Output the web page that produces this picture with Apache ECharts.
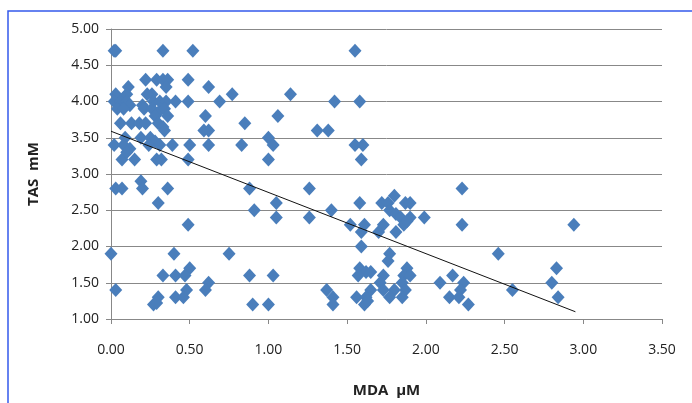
<!DOCTYPE html>
<html>
<head>
<meta charset="utf-8">
<script src="https://cdn.jsdelivr.net/npm/echarts@6/dist/echarts.min.js"></script>
<style>
  html, body { margin: 0; padding: 0; background: #fff; }
  #chart { width: 692px; height: 403px; }
</style>
</head>
<body>
<div id="chart"></div>
<script>
// MDA (x) and TAS (y) pairs
const mda = [
  0.02, 0.03, 0.33, 0.52, 1.55,
  0.11, 0.22, 0.29, 0.33, 0.36, 0.49, 0.62, 0.35, 0.26,
  0.03, 0.08, 0.10, 0.23, 0.77, 1.14,
  0.02, 0.06, 0.10, 0.12, 0.20, 0.27, 0.31, 0.35, 0.41, 0.49, 0.69, 1.42, 1.58,
  0.04, 0.08, 0.21, 0.26, 0.30, 0.34, 0.36, 0.28, 0.60, 1.06,
  0.06, 0.13, 0.18, 0.22, 0.30, 0.33, 0.85,
  0.34, 0.59, 0.62, 1.31, 1.38,
  0.09, 0.19, 0.25, 0.28, 1.00,
  0.02, 0.08, 0.12, 0.24, 0.31, 0.39, 0.50, 0.62, 0.83, 1.03, 1.55, 1.60,
  0.07, 0.10, 0.15, 0.29, 0.32, 0.49, 1.00, 1.59,
  0.19, 0.03, 0.07, 0.20, 0.36, 0.88, 1.26, 2.23,
  0.30, 1.05, 1.58, 1.72, 1.76, 1.80, 1.87, 1.90,
  0.91, 1.40, 1.77, 1.81,
  1.05, 1.26, 1.84, 1.90, 1.99,
  0.49, 1.52, 1.61, 1.73, 1.86, 2.23, 2.94, 1.88,
  1.59, 1.70, 1.81,
  1.59,
  0.00, 0.40, 0.75, 1.77, 2.46,
  1.76,
  0.50, 1.58, 2.83, 1.88, 1.62, 1.65,
  0.33, 0.41, 0.47, 0.88, 1.03, 1.57, 1.73, 1.86, 1.90, 2.17,
  0.62, 1.71, 1.85, 2.09, 2.24, 2.80,
  0.03, 0.48, 0.60, 1.37, 1.65, 1.73, 1.80, 1.87, 2.22, 2.55,
  0.30, 0.41, 0.46, 1.41, 1.56, 1.62, 1.77, 1.85, 2.15, 2.21, 2.84,
  0.27, 0.29, 0.90, 1.00, 1.41, 1.61, 1.63, 2.27
];
const tas = [
  4.70, 4.70, 4.70, 4.70, 4.70,
  4.20, 4.30, 4.30, 4.30, 4.30, 4.30, 4.20, 4.20, 4.10,
  4.10, 4.05, 4.10, 4.10, 4.10, 4.10,
  4.00, 4.00, 4.00, 3.95, 3.95, 4.00, 4.00, 4.00, 4.00, 4.00, 4.00, 4.00, 4.00,
  3.90, 3.90, 3.90, 3.90, 3.85, 3.90, 3.80, 3.80, 3.80, 3.80,
  3.70, 3.70, 3.70, 3.70, 3.70, 3.65, 3.70,
  3.60, 3.60, 3.60, 3.60, 3.60,
  3.50, 3.50, 3.50, 3.45, 3.50,
  3.40, 3.40, 3.35, 3.40, 3.40, 3.40, 3.40, 3.40, 3.40, 3.40, 3.40, 3.40,
  3.20, 3.30, 3.20, 3.20, 3.20, 3.20, 3.20, 3.20,
  2.90, 2.80, 2.80, 2.80, 2.80, 2.80, 2.80, 2.80,
  2.60, 2.60, 2.60, 2.60, 2.60, 2.70, 2.60, 2.60,
  2.50, 2.50, 2.50, 2.45,
  2.40, 2.40, 2.40, 2.40, 2.40,
  2.30, 2.30, 2.30, 2.30, 2.30, 2.30, 2.30, 2.35,
  2.20, 2.20, 2.20,
  2.00,
  1.90, 1.90, 1.90, 1.90, 1.90,
  1.80,
  1.70, 1.70, 1.70, 1.70, 1.65, 1.65,
  1.60, 1.60, 1.60, 1.60, 1.60, 1.60, 1.60, 1.60, 1.60, 1.60,
  1.50, 1.50, 1.50, 1.50, 1.50, 1.50,
  1.40, 1.40, 1.40, 1.40, 1.40, 1.40, 1.40, 1.40, 1.40, 1.40,
  1.30, 1.30, 1.30, 1.30, 1.30, 1.30, 1.30, 1.30, 1.30, 1.30, 1.30,
  1.20, 1.22, 1.20, 1.20, 1.20, 1.20, 1.25, 1.20
];
// linear trend line end points
const trendX = [0.00, 2.95];
const trendY = [3.59, 1.10];

const points = mda.map((x, i) => [x, tas[i]]);
const trend = trendX.map((x, i) => [x, trendY[i]]);

const chart = echarts.init(document.getElementById('chart'));
const font = 'Open Sans, Liberation Sans, sans-serif';

chart.setOption({
  animation: false,
  backgroundColor: '#fff',
  graphic: [{
    type: 'rect',
    silent: true,
    shape: { x: 8, y: 11, width: 800, height: 500 },
    style: { fill: 'none', stroke: '#3559ec', lineWidth: 1.5 }
  }],
  grid: { left: 111, right: 30, top: 29, bottom: 77 },
  xAxis: {
    type: 'value',
    min: 0, max: 3.5, interval: 0.5,
    name: 'MDA  µM',
    nameLocation: 'middle',
    nameGap: 64,
    nameTextStyle: { fontFamily: font, fontSize: 15, fontWeight: 'bold', color: '#222' },
    axisLine: { lineStyle: { color: '#888', width: 1 } },
    axisTick: { show: true, length: 5, lineStyle: { color: '#888' } },
    splitLine: { show: false },
    axisLabel: {
      margin: 24,
      fontFamily: font, fontSize: 14, color: '#222',
      formatter: v => v.toFixed(2)
    }
  },
  yAxis: {
    type: 'value',
    min: 1, max: 5, interval: 0.5,
    name: 'TAS  mM',
    nameLocation: 'middle',
    nameGap: 70,
    nameTextStyle: { fontFamily: font, fontSize: 15, fontWeight: 'bold', color: '#222' },
    axisLine: { show: true, lineStyle: { color: '#888', width: 1 } },
    axisTick: { show: true, length: 5, lineStyle: { color: '#888' } },
    splitLine: { lineStyle: { color: '#888', width: 1 } },
    axisLabel: {
      margin: 12,
      fontFamily: font, fontSize: 14, color: '#222',
      formatter: v => v.toFixed(2)
    }
  },
  series: [
    {
      type: 'scatter',
      data: points,
      symbol: 'diamond',
      symbolSize: [13, 14],
      itemStyle: { color: '#4a7ebb', opacity: 1 }
    },
    {
      type: 'line',
      data: trend,
      showSymbol: false,
      silent: true,
      lineStyle: { color: '#111', width: 1 },
      z: 3
    }
  ]
});
</script>
</body>
</html>
